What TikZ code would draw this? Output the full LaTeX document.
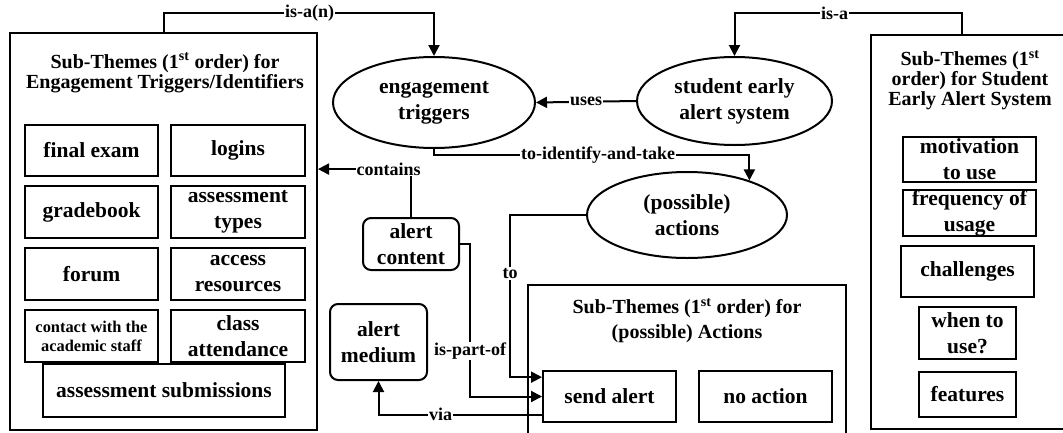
\documentclass[tikz,border=0pt]{standalone}
\usepackage{fontspec}
\setmainfont{Liberation Serif}
\usetikzlibrary{arrows.meta,positioning,shapes.geometric}

\begin{document}
\begin{tikzpicture}[x=1pt, y=-1pt,
  node distance=8pt and 11pt,
  frame/.style={draw, line width=2pt, inner sep=0pt},
  title/.style={align=center, font=\bfseries\fontsize{20}{20}\selectfont},
  item/.style={draw, line width=2pt, align=center, inner sep=0pt, minimum width=133pt, minimum height=51pt, font=\bfseries\fontsize{21.5}{26}\selectfont},
  oval/.style={draw, ellipse, line width=2pt, inner sep=0pt, align=center, font=\bfseries\fontsize{21.5}{26}\selectfont},
  soft/.style={item, rounded corners=8pt, minimum width=96pt},
  lbl/.style={fill=white, inner sep=1pt, font=\bfseries\fontsize{18}{18}\selectfont},
  arr/.style={-{Triangle[length=11pt,width=11pt]}, line width=2pt}]
  \useasboundingbox (0,0) rectangle (1063,432);
  % engagement triggers / identifiers
  \node[frame, minimum width=307pt, minimum height=397pt] (etbox) at (163.5,231.5) {};
  \node[title] (ettitle) at (165,72.5) {Sub-Themes (1\textsuperscript{st} order) for\\Engagement Triggers/Identifiers};
  \node[item] (fexam) at (91.5,150.5) {final exam};
  \node[item, right=of fexam, minimum width=134pt] (logins) {logins};
  \node[item, below=of fexam, minimum height=52pt] (grade) {gradebook};
  \node[item, below=of logins, minimum width=134pt, minimum height=52pt] (atypes) {assessment\\types};
  \node[item, below=of grade, minimum height=52pt] (forum) {forum};
  \node[item, below=of atypes, minimum width=134pt, minimum height=52pt] (access) {access\\resources};
  \node[item, below=of forum, minimum height=52pt, font=\bfseries\fontsize{16.4}{19}\selectfont] (staff) {contact with the\\academic staff};
  \node[item, below=of access, minimum width=134pt, minimum height=52pt] (attend) {class\\attendance};
  \node[item, minimum width=242pt, minimum height=53pt] (submit) at (164,390.5) {assessment submissions};
  % concepts
  \node[oval, minimum width=202pt, minimum height=91pt] (engage) at (434,102.5) {engagement\\triggers};
  \node[oval, minimum width=195pt, minimum height=88pt] (student) at (734.5,101) {student early\\alert system};
  \node[oval, minimum width=200pt, minimum height=86pt] (actions) at (687,215) {(possible)\\actions};
  \node[soft, minimum height=52pt] (content) at (411,244) {alert\\content};
  \node[soft, minimum width=97pt, minimum height=76pt] (medium) at (378.5,342) {alert\\medium};
  % student early alert system
  \node[frame, minimum width=204pt, minimum height=394pt] (sbox) at (973,232) {};
  \node[title] (stitle) at (970,80) {Sub-Themes (1\textsuperscript{st}\\order) for Student\\Early Alert System};
  \node[item, minimum height=45pt] (motive) at (969.5,159.5) {motivation\\to use};
  \node[item, below=6pt of motive, minimum height=46pt] (freq) {frequency of\\usage};
  \node[item] (chall) at (967.5,271.5) {challenges};
  \node[item, minimum width=97pt, minimum height=52pt] (when) at (967.5,333) {when to\\use?};
  \node[item, below=11pt of when, minimum width=97pt, minimum height=45pt] (feat) {features};
  % possible actions
  \node[frame, minimum width=318pt, minimum height=170pt] (abox) at (687,370) {};
  \node[title, font=\bfseries\fontsize{20}{25}\selectfont] (atitle) at (687,320.5) {Sub-Themes (1\textsuperscript{st} order) for\\(possible) Actions};
  \node[item] (send) at (609.5,396.5) {send alert};
  \node[item, right=21pt of send] (noact) {no action};
  % connectors
  \draw[arr] (etbox.north) -- ++(0,-19) -| node[lbl, pos=0.27] {is-a(n)} (engage.north);
  \draw[arr] (sbox.north west) ++(92,0) -- ++(0,-21) -| node[lbl, pos=0.28] {is-a} (student.north);
  \draw[arr] (student.west) -- node[lbl] {uses} (engage.east);
  \draw[arr] (engage.south) -- ++(0,6) -| node[lbl, pos=0.26] {to-identify-and-take} (actions.29);
  \draw[arr] (content.north) |- node[lbl, pos=0.62] {contains} (etbox.22.5);
  \draw[arr] (content.east) -- ++(10,0) |- node[lbl, pos=0.35] {is-part-of} (send.west);
  \draw[arr] (actions.west) -- ++(-76,0) |- node[lbl, pos=0.18] {to} (send.164);
  \draw[arr] (send.195) -| node[lbl, pos=0.31] {via} (medium.south);
\end{tikzpicture}
\end{document}
